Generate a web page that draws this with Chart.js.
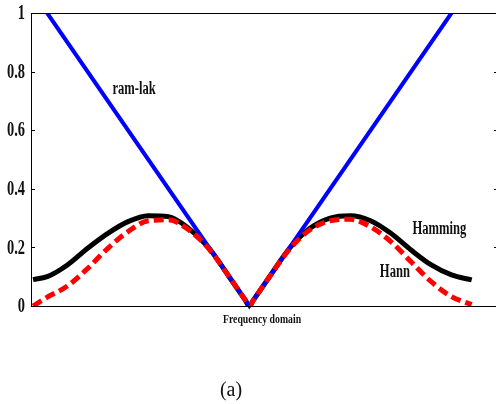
<!DOCTYPE html>
<html>
<head>
<meta charset="utf-8">
<script src="https://cdn.jsdelivr.net/npm/chart.js@4"></script>
<style>
    html, body { margin: 0; padding: 0; background: #fff; overflow: hidden; }
    #wrap { width: 500px; height: 404px; }
</style>
</head>
<body>
<div id="wrap"><canvas id="filterChart"></canvas></div>
<script>
// Frequency samples (normalised) and filter responses
const freq = [-1.07, -1.0, -0.9, -0.8, -0.7, -0.6, -0.5, -0.4, -0.3, -0.2, -0.1, -0.02, 0,
    0.02, 0.1, 0.2, 0.3, 0.4, 0.5, 0.6, 0.7, 0.8, 0.9, 1.0, 1.1];
const hamming = [0.09, 0.10, 0.14, 0.197, 0.248, 0.288, 0.308, 0.305, 0.265, 0.198, 0.1, 0.02, 0,
    0.02, 0.1, 0.198, 0.265, 0.30, 0.308, 0.291, 0.248, 0.191, 0.14, 0.106, 0.089];
const hann = [0.0, 0.03, 0.068, 0.128, 0.197, 0.254, 0.291, 0.294, 0.26, 0.195, 0.1, 0.02, 0,
    0.02, 0.1, 0.195, 0.26, 0.291, 0.296, 0.27, 0.22, 0.151, 0.083, 0.032, 0.005];
const ramLakFreq = [-1.0, 0, 1.0];
const ramLak = [1.0, 0, 1.0];

const yTickLabels = ['0', '0.2', '0.4', '0.6', '0.8', '1'];
const curveLabels = [
    { text: 'ram-lak', x: -0.57, y: 0.74 },
    { text: 'Hamming', x: 0.94, y: 0.263 },
    { text: 'Hann', x: 0.72, y: 0.116 }
];
const xTitle = 'Frequency domain';
const caption = '(a)';

const toPoints = (xs, ys) => xs.map((x, i) => ({ x: x, y: ys[i] }));

// squeezed Times-like text, the figure uses a narrow bold serif
function drawText(ctx, text, x, y, size, squeeze, align, weight) {
    ctx.save();
    ctx.translate(x, y);
    ctx.scale(squeeze, 1);
    ctx.font = weight + ' ' + size + 'px "Liberation Serif", "DejaVu Serif", serif';
    ctx.textAlign = align;
    ctx.textBaseline = 'middle';
    ctx.fillStyle = '#111';
    ctx.fillText(text, 0, 0);
    ctx.restore();
}

const frameAndText = {
    id: 'frameAndText',
    afterDraw(chart) {
        const ctx = chart.ctx;
        const a = chart.chartArea;
        const xs = chart.scales.x;
        const ys = chart.scales.y;

        ctx.save();
        ctx.strokeStyle = '#000';
        ctx.lineWidth = 1;
        ctx.strokeRect(a.left + 0.5, a.top + 0.5, a.right - a.left - 1, a.bottom - a.top);

        // inward ticks on both sides
        ys.ticks.forEach((t, i) => {
            const py = Math.round(ys.getPixelForTick(i)) + 0.5;
            ctx.beginPath();
            ctx.moveTo(a.left, py);
            ctx.lineTo(a.left + 4, py);
            ctx.moveTo(a.right - 5, py);
            ctx.lineTo(a.right, py);
            ctx.stroke();
            drawText(ctx, t.label, a.left - 6, ys.getPixelForTick(i) + 1, 20, 0.72, 'right', 'bold');
        });
        ctx.restore();

        curveLabels.forEach(l => {
            drawText(ctx, l.text, xs.getPixelForValue(l.x), ys.getPixelForValue(l.y), 18, 0.7, 'center', 'bold');
        });

        drawText(ctx, xTitle, 262, 320, 13, 0.75, 'center', 'bold');
        drawText(ctx, caption, 231, 391, 20, 1, 'center', 'normal');
    }
};

document.addEventListener('DOMContentLoaded', () => {
    const ctx = document.getElementById('filterChart').getContext('2d');
    new Chart(ctx, {
        type: 'line',
        data: {
            datasets: [
                {
                    label: 'Hann',
                    data: toPoints(freq, hann),
                    borderColor: '#ff0000',
                    borderWidth: 5,
                    borderDash: [10, 5],
                    cubicInterpolationMode: 'monotone',
                    pointRadius: 0
                },
                {
                    label: 'ram-lak',
                    data: toPoints(ramLakFreq, ramLak),
                    borderColor: '#0000ff',
                    borderWidth: 4,
                    tension: 0,
                    pointRadius: 0,
                    clip: { left: 5, top: 0, right: 5, bottom: 5 }
                },
                {
                    label: 'Hamming',
                    data: toPoints(freq, hamming),
                    borderColor: '#000000',
                    borderWidth: 5,
                    cubicInterpolationMode: 'monotone',
                    pointRadius: 0
                }
            ]
        },
        options: {
            responsive: true,
            maintainAspectRatio: false,
            animation: false,
            layout: {
                padding: { top: 13, right: 1, left: 0, bottom: 0 }
            },
            plugins: {
                legend: { display: false },
                tooltip: { enabled: false }
            },
            scales: {
                x: {
                    type: 'linear',
                    min: -1.08,
                    max: 1.235,
                    grid: { display: false },
                    border: { display: false },
                    ticks: { display: false },
                    afterFit: (scale) => { scale.height = 98; }
                },
                y: {
                    min: 0,
                    max: 1,
                    grid: { display: false },
                    border: { display: false },
                    ticks: {
                        display: false,
                        stepSize: 0.2,
                        callback: (v, i) => yTickLabels[i]
                    },
                    afterFit: (scale) => { scale.width = 31; }
                }
            }
        },
        plugins: [frameAndText]
    });
});
</script>
</body>
</html>
